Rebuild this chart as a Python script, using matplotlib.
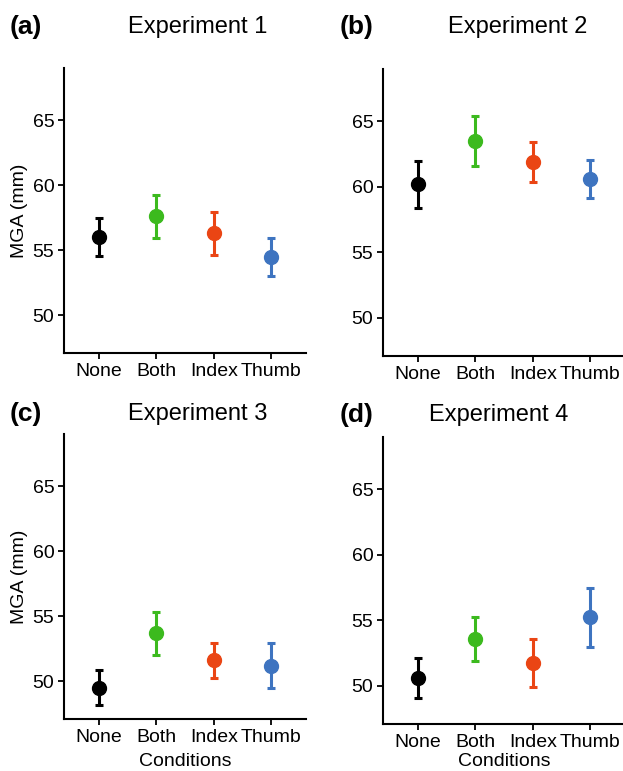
import numpy as np
import matplotlib.pyplot as plt

plt.rcParams['font.family'] = ['Liberation Sans', 'DejaVu Sans']

conditions = ['None', 'Both', 'Index', 'Thumb']
colors = ['#000000', '#3cba1e', '#ea4514', '#3e74c0']

# средние значения MGA (мм) и погрешности
exp1_mean = [56.0, 57.6, 56.3, 54.5]
exp1_err = [1.45, 1.65, 1.65, 1.45]
exp2_mean = [60.2, 63.5, 61.9, 60.6]
exp2_err = [1.8, 1.9, 1.5, 1.45]
exp3_mean = [49.5, 53.7, 51.6, 51.2]
exp3_err = [1.35, 1.65, 1.35, 1.75]
exp4_mean = [50.6, 53.6, 51.75, 55.25]
exp4_err = [1.55, 1.7, 1.8, 2.25]

panels = [
    ('(a)', 'Experiment 1', exp1_mean, exp1_err),
    ('(b)', 'Experiment 2', exp2_mean, exp2_err),
    ('(c)', 'Experiment 3', exp3_mean, exp3_err),
    ('(d)', 'Experiment 4', exp4_mean, exp4_err),
]

W, H = 623, 771
fig = plt.figure(figsize=(W / 100, H / 100), dpi=100)

# положение осей в пикселях: left, top, bottom
boxes = [(64, 68, 353), (383, 69, 356), (64, 434, 719), (383, 437, 724)]
ax_w = 242
title_pos = [(198, 27), (518, 27), (198, 414), (499, 415)]
label_pos = [(10, 27), (340, 27), (10, 414), (340, 415)]
xlabel_y = 762  # центр подписи "Conditions" в пикселях

x = np.arange(1, 5)
for i, (tag, title, mean, err) in enumerate(panels):
    l, t, b = boxes[i]
    ax = fig.add_axes([l / W, 1 - b / H, ax_w / W, (b - t) / H])
    for j in range(4):
        ax.errorbar(x[j], mean[j], yerr=err[j], fmt='o', color=colors[j],
                    markersize=10, elinewidth=2.2, capsize=3, capthick=2.2)
    ax.set_xlim(0.4, 4.6)
    ax.set_ylim(47.1, 69)
    ax.set_yticks([50, 55, 60, 65])
    ax.set_xticks(x)
    ax.set_xticklabels(conditions)
    for s in ['top', 'right']:
        ax.spines[s].set_visible(False)
    for s in ['left', 'bottom']:
        ax.spines[s].set_linewidth(1.5)
    ax.tick_params(labelsize=14, length=4, width=1.3, pad=3, colors='black')
    if i % 2 == 0:
        ax.set_ylabel('MGA (mm)', fontsize=14, labelpad=3)
    if i >= 2:
        ax.set_xlabel('Conditions', fontsize=14, va='center')
        ax.xaxis.set_label_coords(0.5, (b - xlabel_y) / (b - t))
    tx, ty = title_pos[i]
    fig.text(tx / W, 1 - ty / H, title, fontsize=17, ha='center', va='center')
    px, py = label_pos[i]
    fig.text(px / W, 1 - py / H, tag, fontsize=19, fontweight='bold',
             ha='left', va='center')

plt.savefig('out.png', dpi=100)
